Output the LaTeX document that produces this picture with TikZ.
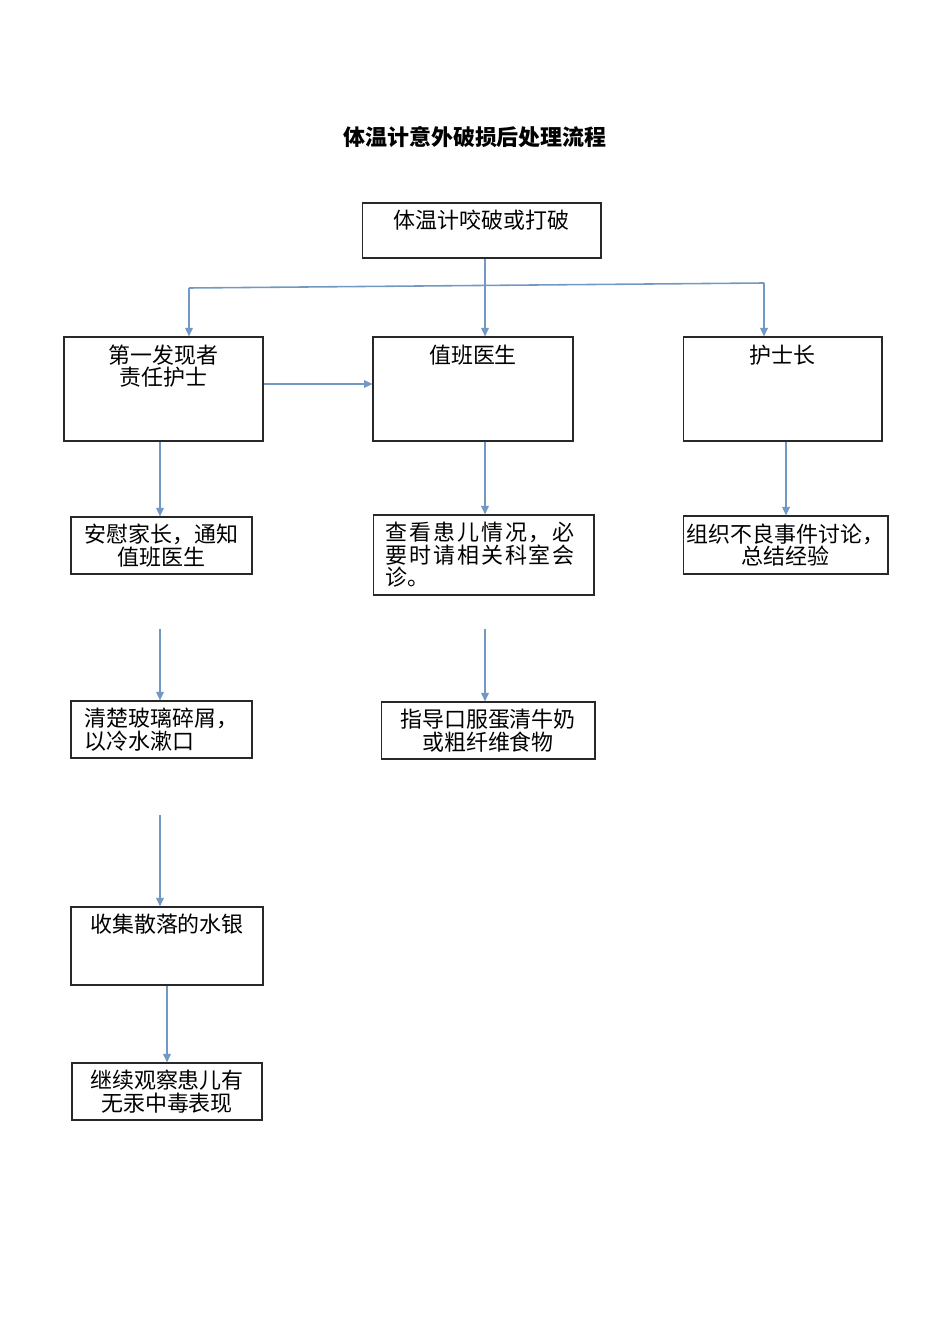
\documentclass[tikz,border=0pt]{standalone}
\usepackage{fontspec}
\setmainfont{Noto Sans CJK SC}
\usepackage{tikz}
\usetikzlibrary{arrows}
\usetikzlibrary{arrows.meta}
\usetikzlibrary{positioning}
\definecolor{linkblue}{RGB}{113,153,196}
\definecolor{boxgray}{RGB}{40,40,40}

\begin{document}
\begin{tikzpicture}[x=0.02cm,y=-0.02cm,
		box/.style={draw=boxgray,line width=0.6pt,rectangle,inner sep=0pt,align=center,font=\fontsize{12.5}{12.8}\selectfont},
		txt/.style={inner sep=0pt,align=center,font=\fontsize{12.5}{12.8}\selectfont},
		arr/.style={draw=linkblue,line width=0.9pt,-{Triangle[length=0.17cm,width=0.15cm]}}]
				\useasboundingbox (0,0) rectangle (950,1344);
				
				% Title
				\node[txt,font=\fontsize{12.5}{13}\selectfont\bfseries] (title) at (475,137) {体温计意外破损后处理流程};
				
				% Boxes, top row
				\node[box,minimum width=4.78cm,minimum height=1.10cm] (ttop) at (481.5,230.5) {};
				\node[txt,below=0.14cm of ttop.north] (ttop-t) {体温计咬破或打破};
				
				\node[box,minimum width=3.98cm,minimum height=2.08cm] (first) at (163.5,389) {};
				\node[txt,below=0.16cm of first.north] (first-t) {第一发现者\\责任护士};
				\node[box,minimum width=4.00cm,minimum height=2.08cm] (doctor) at (473,389) {};
				\node[txt,below=0.16cm of doctor.north] (doctor-t) {值班医生};
				\node[box,minimum width=3.98cm,minimum height=2.08cm] (head) at (782.5,389) {};
				\node[txt,below=0.16cm of head.north] (head-t) {护士长};
				
				% Boxes, second row
				\node[box,minimum width=3.62cm,minimum height=1.14cm] (comfort) at (161.5,545.5) {安慰家长，通知\\值班医生};
				\node[box,minimum width=4.42cm,minimum height=1.60cm,align=left] (check) at (483.5,555)
					{\addfontfeature{LetterSpace=9}查看患儿情况，必\\\addfontfeature{LetterSpace=9}要时请相关科室会\\诊。\hspace*{3.05cm}};
				\node[box,minimum width=4.10cm,minimum height=1.16cm] (review) at (785.5,545) {组织不良事件讨论，\\总结经验};
				
				% Boxes, third row
				\node[box,minimum width=3.62cm,minimum height=1.14cm,align=left] (clean) at (161.5,729.5) {清楚玻璃碎屑，\\以冷水漱口};
				\node[box,minimum width=4.28cm,minimum height=1.14cm] (guide) at (488,730.5) {指导口服蛋清牛奶\\或粗纤维食物};
				
				% Boxes, left column bottom
				\node[box,minimum width=3.84cm,minimum height=1.56cm] (collect) at (167,946) {};
				\node[txt,below=0.14cm of collect.north] (collect-t) {收集散落的水银};
				\node[box,minimum width=3.80cm,minimum height=1.14cm] (observe) at (167,1091.5) {继续观察患儿有\\无汞中毒表现};
				
				% Branch from the top box
				\coordinate (bl) at (189,288);
				\coordinate (br) at (764,283);
				\draw[arr] ([xshift=0.07cm]ttop.south) -- ([xshift=0.07cm]ttop.south |- doctor.north);
				\draw[draw=linkblue,line width=0.9pt] (bl) -- (br);
				\draw[arr] (bl) -- (bl |- first.north);
				\draw[arr] (br) -- (br |- head.north);
				\draw[arr] ([yshift=0.1cm]first.east) -- ([yshift=0.1cm]first.east -| doctor.west);
				
				% Down arrows
				\draw[arr] ([xshift=-0.07cm]first.south) -- ([xshift=-0.07cm]first.south |- comfort.north);
				\draw[arr] ([xshift=0.24cm]doctor.south) -- ([xshift=0.24cm]doctor.south |- check.north);
				\draw[arr] ([xshift=0.07cm]head.south) -- ([xshift=0.07cm]head.south |- review.north);
				
				\coordinate (g1) at (160,629);
				\coordinate (g2) at (485,629);
				\coordinate (g3) at (160,815);
				\draw[arr] (g1) -- (g1 |- clean.north);
				\draw[arr] (g2) -- (g2 |- guide.north);
				\draw[arr] (g3) -- (g3 |- collect.north);
				\draw[arr] (collect.south) -- (observe.north);
				
\end{tikzpicture}
\end{document}
